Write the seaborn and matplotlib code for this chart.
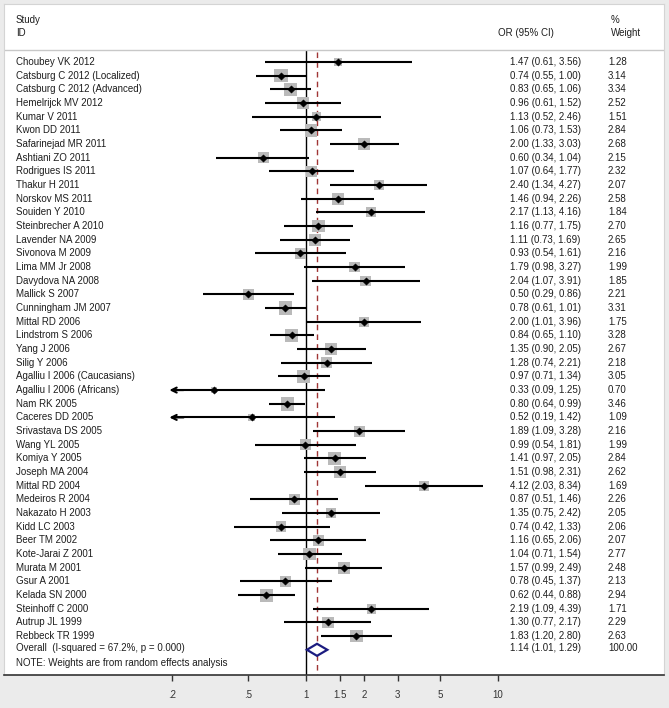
import numpy as np
import pandas as pd
import matplotlib
matplotlib.use("Agg")
import matplotlib.pyplot as plt
import seaborn as sns
from matplotlib.transforms import blended_transform_factory
from matplotlib.patches import Polygon
from matplotlib.ticker import NullLocator

# ---- data ----
studies = [
    "Choubey VK 2012", "Catsburg C 2012 (Localized)", "Catsburg C 2012 (Advanced)",
    "Hemelrijck MV 2012", "Kumar V 2011", "Kwon DD 2011", "Safarinejad MR 2011",
    "Ashtiani ZO 2011", "Rodrigues IS 2011", "Thakur H 2011", "Norskov MS 2011",
    "Souiden Y 2010", "Steinbrecher A 2010", "Lavender NA 2009", "Sivonova M 2009",
    "Lima MM Jr 2008", "Davydova NA 2008", "Mallick S 2007", "Cunningham JM 2007",
    "Mittal RD 2006", "Lindstrom S 2006", "Yang J 2006", "Silig Y 2006",
    "Agalliu I 2006 (Caucasians)", "Agalliu I 2006 (Africans)", "Nam RK 2005",
    "Caceres DD 2005", "Srivastava DS 2005", "Wang YL 2005", "Komiya Y 2005",
    "Joseph MA 2004", "Mittal RD 2004", "Medeiros R 2004", "Nakazato H 2003",
    "Kidd LC 2003", "Beer TM 2002", "Kote-Jarai Z 2001", "Murata M 2001",
    "Gsur A 2001", "Kelada SN 2000", "Steinhoff C 2000", "Autrup JL 1999",
    "Rebbeck TR 1999",
]
odds = [1.47, 0.74, 0.83, 0.96, 1.13, 1.06, 2.00, 0.60, 1.07, 2.40, 1.46,
        2.17, 1.16, 1.11, 0.93, 1.79, 2.04, 0.50, 0.78, 2.00, 0.84, 1.35,
        1.28, 0.97, 0.33, 0.80, 0.52, 1.89, 0.99, 1.41, 1.51, 4.12, 0.87,
        1.35, 0.74, 1.16, 1.04, 1.57, 0.78, 0.62, 2.19, 1.30, 1.83]
ci_low = [0.61, 0.55, 0.65, 0.61, 0.52, 0.73, 1.33, 0.34, 0.64, 1.34, 0.94,
          1.13, 0.77, 0.73, 0.54, 0.98, 1.07, 0.29, 0.61, 1.01, 0.65, 0.90,
          0.74, 0.71, 0.09, 0.64, 0.19, 1.09, 0.54, 0.97, 0.98, 2.03, 0.51,
          0.75, 0.42, 0.65, 0.71, 0.99, 0.45, 0.44, 1.09, 0.77, 1.20]
ci_high = [3.56, 1.00, 1.06, 1.52, 2.46, 1.53, 3.03, 1.04, 1.77, 4.27, 2.26,
           4.16, 1.75, 1.69, 1.61, 3.27, 3.91, 0.86, 1.01, 3.96, 1.10, 2.05,
           2.21, 1.34, 1.25, 0.99, 1.42, 3.28, 1.81, 2.05, 2.31, 8.34, 1.46,
           2.42, 1.33, 2.06, 1.54, 2.49, 1.37, 0.88, 4.39, 2.17, 2.80]
weights = [1.28, 3.14, 3.34, 2.52, 1.51, 2.84, 2.68, 2.15, 2.32, 2.07, 2.58,
           1.84, 2.70, 2.65, 2.16, 1.99, 1.85, 2.21, 3.31, 1.75, 3.28, 2.67,
           2.18, 3.05, 0.70, 3.46, 1.09, 2.16, 1.99, 2.84, 2.62, 1.69, 2.26,
           2.05, 2.06, 2.07, 2.77, 2.48, 2.13, 2.94, 1.71, 2.29, 2.63]

overall_label = "Overall  (I-squared = 67.2%, p = 0.000)"
overall_or, overall_lo, overall_hi, overall_wt = 1.14, 1.01, 1.29, 100.00
note_text = "NOTE: Weights are from random effects analysis"
tick_values = [0.2, 0.5, 1, 1.5, 2, 3, 5, 10]
tick_labels = [".2", ".5", "1", "1.5", "2", "3", "5", "10"]
x_floor = 0.2

df = pd.DataFrame({"study": studies, "or": odds, "lo": ci_low,
                   "hi": ci_high, "weight": weights})
df["row"] = np.arange(len(df))
df["lo_draw"] = df["lo"].clip(lower=x_floor)
overall_row = len(df)

# ---- figure ----
sns.set_style("white")
plt.rcParams["font.family"] = ["Liberation Sans", "DejaVu Sans"]
W, H = 669, 708
fig = plt.figure(figsize=(W / 100, H / 100), dpi=100)
fig.patch.set_facecolor("#ebebeb")

ax = fig.add_axes([4 / W, 33 / H, 660 / W, 671 / H])
ax.set_facecolor("white")
ax.set_xscale("log")
ax.set_xlim(0.02669, 73.2)
row_px = 13.67
ax.set_ylim((675 - 62) / row_px, (4 - 62) / row_px)

txt_color = "#1e1e1e"
fs = 7
tr = blended_transform_factory(fig.transFigure, ax.transData)

# header
ax.text(16 / W, -3.05, "Study", transform=tr, fontsize=fs, color=txt_color, va="center")
ax.text(16 / W, -2.1, "ID", transform=tr, fontsize=fs, color=txt_color, va="center")
ax.text(498 / W, -2.1, "OR (95% CI)", transform=tr, fontsize=fs, color=txt_color, va="center")
ax.text(611 / W, -3.05, "%", transform=tr, fontsize=fs, color=txt_color, va="center")
ax.text(611 / W, -2.1, "Weight", transform=tr, fontsize=fs, color=txt_color, va="center")
ax.axhline(-0.88, color="#c8c8c8", lw=1)

# reference lines
ax.vlines(1, -0.88, 44.85, colors="black", lw=1, zorder=1.5)
ax.vlines(overall_or, -0.75, 44.85, colors="#a03535", lw=1,
          linestyles=(0, (4, 3)), zorder=1.5)

# weight boxes
wmin, wmax = min(weights), max(weights)
sns.scatterplot(data=df, x="or", y="row", size="weight",
                sizes=(29 * wmin, 29 * wmax), size_norm=(wmin, wmax),
                marker="s", color="#bababa", edgecolor="none", linewidth=0,
                legend=False, ax=ax, zorder=2)

# confidence intervals
ax.hlines(df["row"], df["lo_draw"], df["hi"], colors="black", lw=1.5, zorder=3)
for _, r in df[df["lo"] < x_floor].iterrows():
    ax.annotate("", xy=(x_floor * 0.97, r["row"]), xytext=(x_floor * 1.15, r["row"]),
                arrowprops=dict(arrowstyle="->", lw=1.5, color="black",
                                shrinkA=0, shrinkB=0, mutation_scale=9),
                zorder=3)

# point estimates
sns.scatterplot(data=df, x="or", y="row", marker="D", color="black",
                edgecolor="black", s=14, legend=False, ax=ax, zorder=4)

# overall diamond
h = 0.44
ax.add_patch(Polygon([(overall_lo, overall_row), (overall_or, overall_row - h),
                      (overall_hi, overall_row), (overall_or, overall_row + h)],
                     closed=True, facecolor="white", edgecolor="#1c1c80",
                     lw=1.6, zorder=4))

# text columns
for _, r in df.iterrows():
    ax.text(16 / W, r["row"], r["study"], transform=tr, fontsize=fs,
            color=txt_color, va="center")
    ax.text(510 / W, r["row"], f"{r['or']:.2f} ({r['lo']:.2f}, {r['hi']:.2f})",
            transform=tr, fontsize=fs, color=txt_color, va="center")
    ax.text(608 / W, r["row"], f"{r['weight']:.2f}", transform=tr,
            fontsize=fs, color=txt_color, va="center")
ax.text(16 / W, overall_row - 0.15, overall_label, transform=tr, fontsize=fs,
        color=txt_color, va="center")
ax.text(510 / W, overall_row - 0.15,
        f"{overall_or:.2f} ({overall_lo:.2f}, {overall_hi:.2f})",
        transform=tr, fontsize=fs, color=txt_color, va="center")
ax.text(608 / W, overall_row - 0.15, f"{overall_wt:.2f}", transform=tr,
        fontsize=fs, color=txt_color, va="center")
ax.text(16 / W, overall_row + 0.95, note_text, transform=tr, fontsize=fs,
        color=txt_color, va="center")

# axes styling
ax.set_xticks(tick_values)
ax.set_xticklabels(tick_labels)
ax.xaxis.set_minor_locator(NullLocator())
ax.tick_params(axis="x", direction="out", length=4, width=1, colors="#333333",
               labelsize=fs, pad=7, bottom=True)
ax.set_yticks([])
ax.set_xlabel("")
ax.set_ylabel("")
for side in ["left", "top", "right"]:
    ax.spines[side].set_color("#d4d4d4")
    ax.spines[side].set_linewidth(0.8)
ax.spines["bottom"].set_color("#333333")
ax.spines["bottom"].set_linewidth(1.2)

fig.savefig("out.png", dpi=100, facecolor=fig.get_facecolor())
